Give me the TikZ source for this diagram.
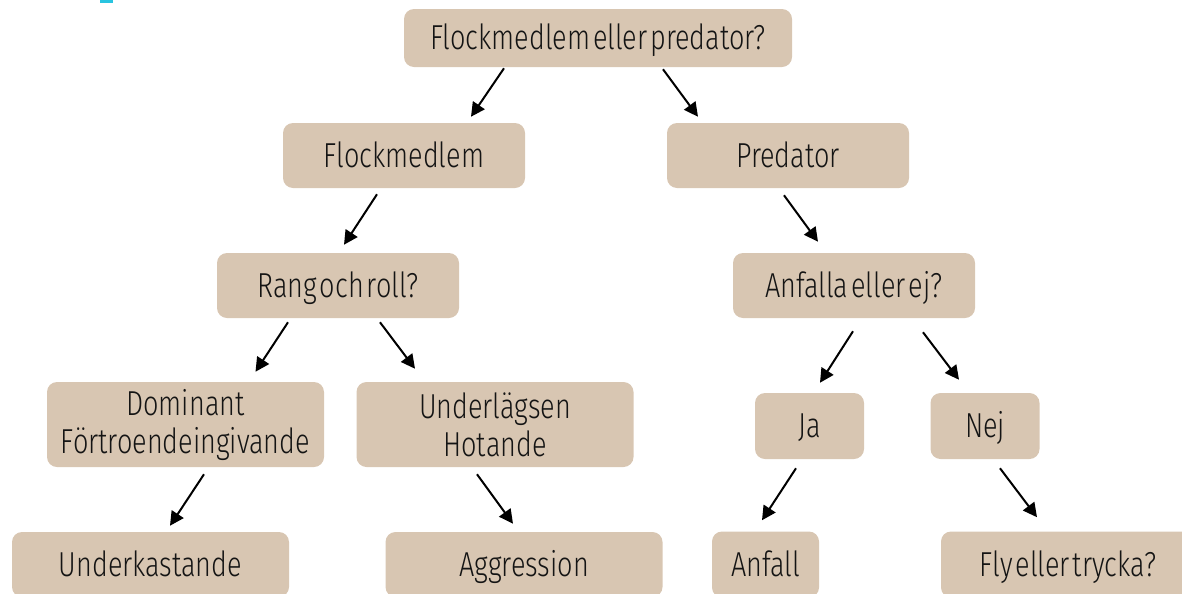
\documentclass[tikz,border=0pt]{standalone}
\usepackage{fontspec}
\setmainfont{Fira Sans}[UprightFont={* Light}, FakeStretch=0.78, WordSpace=0.4]
\usetikzlibrary{arrows.meta,calc}
\definecolor{boxc}{RGB}{216,198,178}
\definecolor{txtc}{RGB}{20,20,20}
\definecolor{markc}{RGB}{41,196,224}
\tikzset{
  box/.style={fill=boxc, rounded corners=7.5pt, inner sep=0pt, align=center,
    text=txtc, font=\fontsize{26}{28.5}\selectfont},
  one/.style={text height=17.9pt, text depth=0pt},
  wbox/.style={box, one, minimum width=181.5pt, minimum height=48.75pt},
  lbox/.style={box, minimum width=207.75pt, minimum height=63.75pt},
  bbox/.style={box, one, minimum width=207.75pt, minimum height=48.75pt},
  sbox/.style={box, one, minimum width=81.75pt, minimum height=49.5pt},
  arr/.style={line width=1.5pt, -{Triangle[length=10.5pt,width=10.5pt]}}
}
\begin{document}
\begin{tikzpicture}[x=0.75pt,y=-0.75pt]
\useasboundingbox (0,0) rectangle (1182,593);
\clip (0,0) rectangle (1182,593);
\fill[markc] (100,0) rectangle (113,3);
\node[box, one, minimum width=291pt, minimum height=43.5pt] (top) at (598,38) {Flockmedlem eller predator?};
\node[wbox] (flock) at (404,155.5) {Flockmedlem};
\node[wbox] (pred) at (788,155.5) {Predator};
\node[wbox] (rang) at (338,285.5) {Rang och roll?};
\node[wbox] (anf) at (854,285.5) {Anfalla eller ej?};
\node[lbox] (dom) at (185.5,424.5) {Dominant\\Förtroendeingivande};
\node[lbox] (und) at (495,424.5) {Underlägsen\\Hotande};
\node[sbox] (ja) at (809.5,426) {Ja};
\node[sbox] (nej) at (985,426) {Nej};
\node[bbox] (ukast) at (150.5,564.5) {Underkastande};
\node[bbox] (aggr) at (524,564.5) {Aggression};
\node[sbox, minimum width=80.25pt] (anfall) at (765.5,564.5) {Anfall};
\node[box, one, minimum width=190.5pt, minimum height=49.5pt] (fly) at (1068,564.5) {Fly eller trycka?};
\draw[arr] ($(top.south)+(-94,1)$) -- ($(flock.north)+(67,-6)$);
\draw[arr] ($(top.south)+(65,2)$) -- ($(pred.north)+(-90,-6)$);
\draw[arr] ($(flock.south)+(-27,6)$) -- ($(rang.north)+(6,-8)$);
\draw[arr] ($(pred.south)+(-4,7)$) -- ($(anf.north)+(-36,-11)$);
\draw[arr] ($(rang.south)+(-50,4)$) -- ($(dom.north)+(70,-10)$);
\draw[arr] ($(rang.south)+(42,4)$) -- ($(und.north)+(-80,-13)$);
\draw[arr] ($(anf.south)+(-1,13)$) -- ($(ja.north)+(10.5,-10)$);
\draw[arr] ($(anf.south)+(69,14)$) -- ($(nej.north)+(-26,-13)$);
\draw[arr] ($(dom.south)+(18.5,7)$) -- ($(ukast.north)+(19.5,-6)$);
\draw[arr] ($(und.south)+(-18,7)$) -- ($(aggr.north)+(-11,-8)$);
\draw[arr] ($(ja.south)+(-13.5,9)$) -- ($(anfall.north)+(-3.5,-11)$);
\draw[arr] ($(nej.south)+(15,9)$) -- ($(fly.north)+(-31,-14)$);
\end{tikzpicture}
\end{document}
